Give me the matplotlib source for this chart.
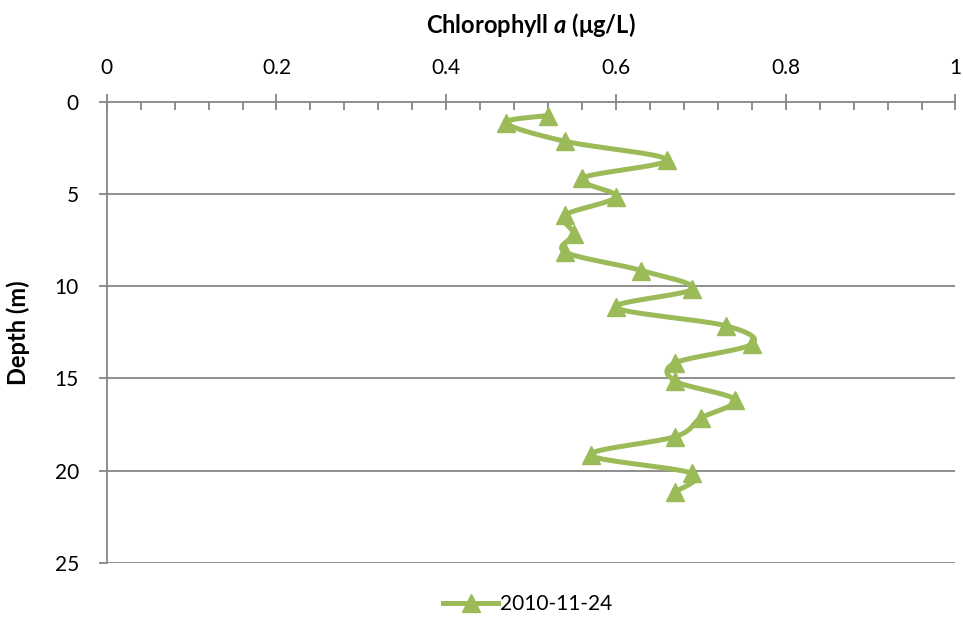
import numpy as np
import matplotlib
matplotlib.use("Agg")
import matplotlib.pyplot as plt
from matplotlib.ticker import MultipleLocator
from matplotlib.lines import Line2D

plt.rcParams['font.family'] = ['Lato', 'DejaVu Sans']
plt.rcParams['font.sans-serif'] = ['Lato']
plt.rcParams['mathtext.fontset'] = 'custom'
plt.rcParams['mathtext.bfit'] = 'sans:italic:bold'

# data
depth = [0.75, 1.15, 2.15, 3.15, 4.15, 5.15, 6.15, 7.15, 8.15, 9.15, 10.15,
         11.15, 12.15, 13.15, 14.15, 15.15, 16.15, 17.15, 18.15, 19.15, 20.15, 21.15]
chl = [0.52, 0.47, 0.54, 0.66, 0.56, 0.60, 0.54, 0.55, 0.54, 0.63, 0.69,
       0.60, 0.73, 0.76, 0.67, 0.67, 0.74, 0.70, 0.67, 0.57, 0.69, 0.67]
series_name = "2010-11-24"
x_ticks = [0, 0.2, 0.4, 0.6, 0.8, 1]
y_ticks = [0, 5, 10, 15, 20, 25]

green = "#9BBB59"
grey = "#868686"


def smooth(xs, ys, sx, sy, n=20):
    # excel-style smoothed line (bezier with 1/6 tension) in screen-like units
    p = np.column_stack([np.array(xs) * sx, np.array(ys) * sy])
    p = np.vstack([p[0], p, p[-1]])
    out = []
    t = np.linspace(0, 1, n)
    for i in range(1, len(p) - 2):
        p0, p1, p2, p3 = p[i - 1], p[i], p[i + 1], p[i + 2]
        c1 = p1 + (p2 - p0) / 6
        c2 = p2 - (p3 - p1) / 6
        seg = ((1 - t) ** 3)[:, None] * p1 + (3 * (1 - t) ** 2 * t)[:, None] * c1 \
            + (3 * (1 - t) * t ** 2)[:, None] * c2 + (t ** 3)[:, None] * p2
        out.append(seg)
    out = np.vstack(out)
    return out[:, 0] / sx, out[:, 1] / sy


fig = plt.figure(figsize=(9.63, 6.2), dpi=100)
ax = fig.add_axes([0.1108, 0.092, 0.8814, 0.744])

ax.set_xlim(0, 1)
ax.set_ylim(25, 0)

sx, sy = 849.0, 18.45
cx, cy = smooth(chl, depth, sx, sy)
ax.plot(cx, cy, color=green, lw=3.6, solid_capstyle='round', zorder=3)
ax.plot(chl, depth, linestyle='none', marker='^', markersize=13.5, color=green, zorder=4)

# grid lines
for y in y_ticks[1:]:
    ax.axhline(y, color=grey, lw=1.3, zorder=1)

ax.xaxis.tick_top()
ax.xaxis.set_label_position('top')
ax.set_xticks(x_ticks)
ax.set_xticklabels([str(v) for v in x_ticks])
ax.xaxis.set_minor_locator(MultipleLocator(0.04))
ax.set_yticks(y_ticks)
ax.tick_params(axis='x', which='major', direction='inout', length=12, width=1.3,
               color=grey, labelsize=15, pad=11)
ax.tick_params(axis='x', which='minor', direction='in', length=6, width=1.3, color=grey)
ax.tick_params(axis='y', which='major', direction='out', length=6, width=1.3,
               color=grey, labelsize=15, pad=14)

for s in ['right', 'bottom']:
    ax.spines[s].set_visible(False)
for s in ['top', 'left']:
    ax.spines[s].set_color(grey)
    ax.spines[s].set_linewidth(1.3)

ax.set_xlabel(r"Chlorophyll $\mathbfit{a}$ (μg/L)", fontsize=17, fontweight='bold', labelpad=18)
ax.set_ylabel("Depth (m)", fontsize=17, fontweight='bold', labelpad=18)

handle = Line2D([], [], color=green, lw=3.6, marker='^', markersize=13.5)
fig.legend([handle], [series_name], loc='center', bbox_to_anchor=(0.548, 0.025),
           frameon=False, fontsize=15, handlelength=2.6, handletextpad=0.1)

fig.savefig("out.png", dpi=100)
